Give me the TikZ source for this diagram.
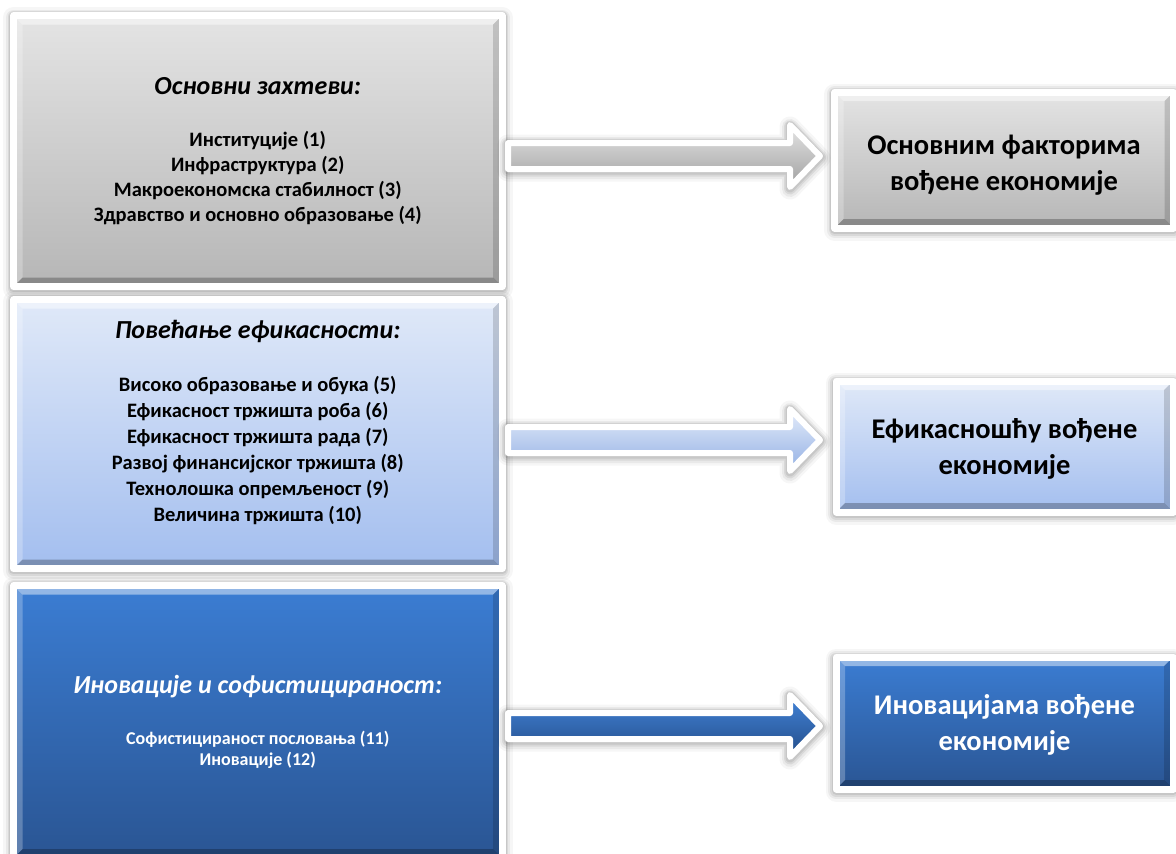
\documentclass[tikz,border=0pt]{standalone}
\usepackage{fontspec}
\setmainfont{Carlito}
\usetikzlibrary{calc}
\definecolor{gTop}{HTML}{E4E4E4}
\definecolor{gBot}{HTML}{B6B6B6}
\definecolor{lTop}{HTML}{E0E9F8}
\definecolor{lBot}{HTML}{A3BEEF}
\definecolor{dTop}{HTML}{3B7DD3}
\definecolor{dBot}{HTML}{2A5593}
\definecolor{agTop}{HTML}{E4E4E4}
\definecolor{agMid}{HTML}{CFCFCF}
\definecolor{agBot}{HTML}{A0A0A0}
\definecolor{alTop}{HTML}{E4ECFA}
\definecolor{alMid}{HTML}{C4D5F3}
\definecolor{alBot}{HTML}{93B0E4}
\definecolor{adTop}{HTML}{4283D8}
\definecolor{adMid}{HTML}{3369B8}
\definecolor{adBot}{HTML}{234D88}
\tikzset{
  glow/.style={
    preaction={draw=black, draw opacity=0.035, line width=21pt, line join=round, transform canvas={yshift=-2pt}},
    preaction={draw=black, draw opacity=0.05, line width=16pt, line join=round, transform canvas={yshift=-2pt}},
    preaction={draw=black, draw opacity=0.07, line width=12pt, line join=round, transform canvas={yshift=-1.5pt}},
    preaction={draw=black, draw opacity=0.08, line width=9pt, line join=round, transform canvas={yshift=-1pt}}},
  box/.style={rectangle, glow, draw=white, line width=7pt, line join=round, outer sep=0pt, inner sep=0pt,
    align=center,
    path picture={
      \fill[white,opacity=0.45] (path picture bounding box.north west) -- (path picture bounding box.north east)
        -- ([xshift=-9pt,yshift=-9pt]path picture bounding box.north east) -- ([xshift=9pt,yshift=-9pt]path picture bounding box.north west) -- cycle;
      \fill[white,opacity=0.25] (path picture bounding box.north west) -- (path picture bounding box.south west)
        -- ([xshift=9pt,yshift=9pt]path picture bounding box.south west) -- ([xshift=9pt,yshift=-9pt]path picture bounding box.north west) -- cycle;
      \fill[black,opacity=0.25] (path picture bounding box.south west) -- (path picture bounding box.south east)
        -- ([xshift=-9pt,yshift=9pt]path picture bounding box.south east) -- ([xshift=9pt,yshift=9pt]path picture bounding box.south west) -- cycle;
      \fill[black,opacity=0.15] (path picture bounding box.north east) -- (path picture bounding box.south east)
        -- ([xshift=-9pt,yshift=9pt]path picture bounding box.south east) -- ([xshift=-9pt,yshift=-9pt]path picture bounding box.north east) -- cycle;
    }},
  graybox/.style={box, top color=gTop, bottom color=gBot, text=black},
  lightbox/.style={box, top color=lTop, bottom color=lBot, text=black},
  darkbox/.style={box, top color=dTop, bottom color=dBot, text=white},
  arrowbase/.style={glow, draw=white, line width=6pt, line join=round},
  grayarrow/.style={arrowbase, top color=agTop, middle color=agMid, bottom color=agBot},
  lightarrow/.style={arrowbase, top color=alTop, middle color=alMid, bottom color=alBot},
  darkarrow/.style={arrowbase, top color=adTop, middle color=adMid, bottom color=adBot},
  bigtxt/.style={font=\fontsize{28.5}{36}\selectfont\bfseries},
}
\newcommand{\ttlA}[1]{{\fontsize{26}{25}\selectfont\bfseries\itshape #1}}
\newcommand{\twolines}[3]{\raisebox{0pt}[\dimexpr\height+#1\relax][\depth]{\begin{tabular}{@{}c@{}}#2\\ #3\end{tabular}}}
\begin{document}
\begin{tikzpicture}[x=1pt,y=-1pt]
\useasboundingbox (0,0) rectangle (1176,854);
\fill[white] (0,0) rectangle (1176,854);

% left boxes
\node[graybox, minimum width=488.5pt, minimum height=271pt,
  font=\fontsize{20.5}{25}\selectfont\bfseries] (b1) at (257.75,151)
  {\ttlA{Основни захтеви:}\\[27pt]
   Институције (1)\\ Инфраструктура (2)\\ Макроекономска стабилност (3)\\ Здравство и основно образовање (4)};

\node[lightbox, minimum width=488.5pt, minimum height=269pt,
  font=\fontsize{20.5}{26}\selectfont\bfseries] (b2) at (257.75,434)
  {\ttlA{Повећање ефикасности:}\\[27pt]
   Високо образовање и обука (5)\\ Ефикасност тржишта роба (6)\\ Ефикасност тржишта рада (7)\\
   Развој финансијског тржишта (8)\\ Технолошка опремљеност (9)\\ Величина тржишта (10)\\ \mbox{}};

\node[darkbox, minimum width=488.5pt, minimum height=272.5pt,
  font=\fontsize{18}{21}\selectfont\bfseries] (b3) at (257.75,721.75)
  {\ttlA{Иновације и софистицираност:}\\[30pt]
   Софистицираност пословања (11)\\ Иновације (12)};

% right boxes
\node[graybox, bigtxt, minimum width=339pt, minimum height=136pt] (r1) at (1004,160)
  {\twolines{10pt}{Основним факторима}{вођене економије}};
\node[lightbox, bigtxt, minimum width=337pt, minimum height=131pt] (r2) at (1004.5,446.5)
  {\twolines{6pt}{Ефикасношћу вођене}{економије}};
\node[darkbox, bigtxt, minimum width=337pt, minimum height=132pt] (r3) at (1004.5,723)
  {\twolines{5pt}{Иновацијама вођене}{економије}};

% arrows
\coordinate (s1) at (508,156); \coordinate (e1) at (820,156);
\coordinate (s2) at (508,440); \coordinate (e2) at (820,440);
\coordinate (s3) at (508,726); \coordinate (e3) at (820,726);
\path[grayarrow] ($(s1)+(0,-13)$) -- ($(e1)+(-30,-13)$) -- ($(e1)+(-30,-31)$) -- (e1)
  -- ($(e1)+(-30,31)$) -- ($(e1)+(-30,13)$) -- ($(s1)+(0,13)$) -- cycle;
\path[lightarrow] ($(s2)+(0,-13)$) -- ($(e2)+(-30,-13)$) -- ($(e2)+(-30,-31)$) -- (e2)
  -- ($(e2)+(-30,31)$) -- ($(e2)+(-30,13)$) -- ($(s2)+(0,13)$) -- cycle;
\path[darkarrow] ($(s3)+(0,-13)$) -- ($(e3)+(-30,-13)$) -- ($(e3)+(-30,-31)$) -- (e3)
  -- ($(e3)+(-30,31)$) -- ($(e3)+(-30,13)$) -- ($(s3)+(0,13)$) -- cycle;
\end{tikzpicture}
\end{document}
